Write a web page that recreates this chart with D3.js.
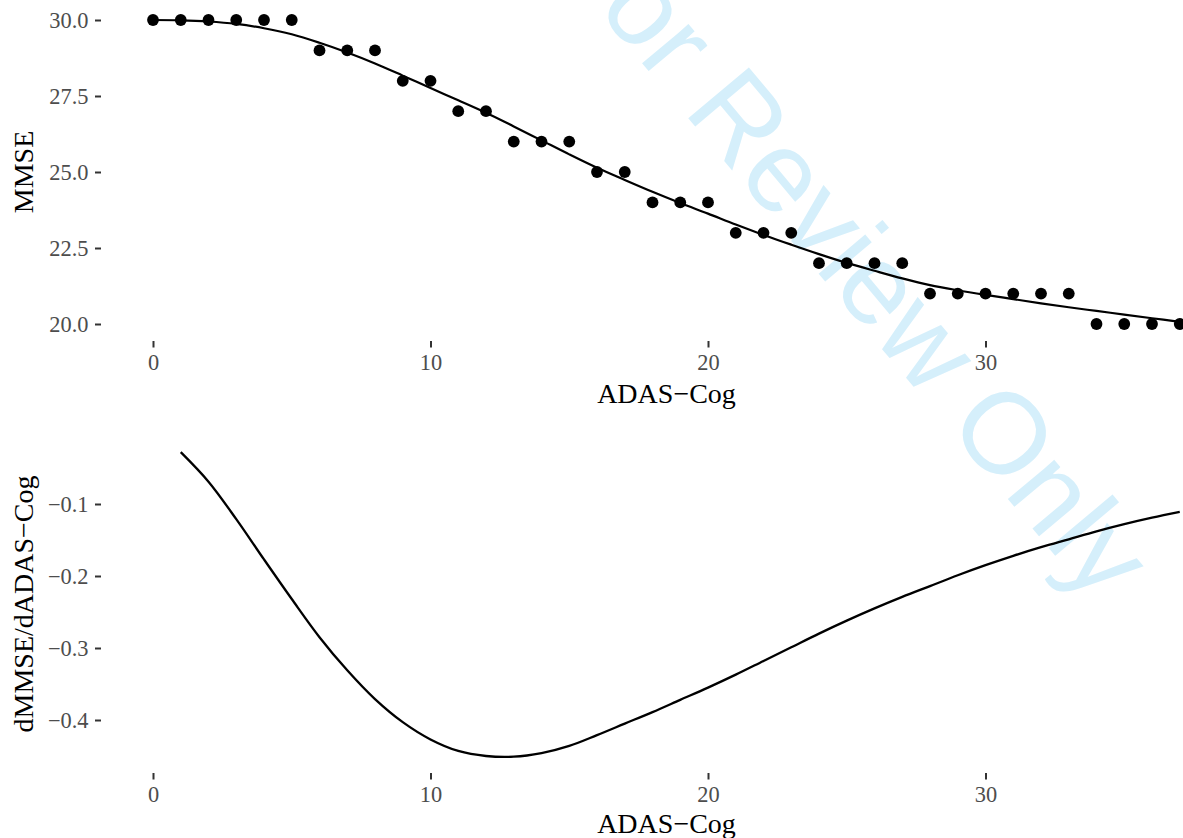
<!DOCTYPE html>
<html>
<head>
<meta charset="utf-8">
<script src="https://cdn.jsdelivr.net/npm/d3@7"></script>
<style>
    html, body { margin: 0; padding: 0; background: #fff; overflow: hidden; }
    svg { display: block; }
    .axis text { font-family: "Liberation Serif", "Times New Roman", serif; font-size: 22.4px; fill: #4d4d4d; }
    .axis line { stroke: #333; stroke-width: 2px; }
    .title { font-family: "Liberation Serif", "Times New Roman", serif; font-size: 28px; fill: #000; }
</style>
</head>
<body>
<svg></svg>
<script>
// observed scores
var adasCog = [0, 1, 2, 3, 4, 5, 6, 7, 8, 9, 10, 11, 12, 13, 14, 15, 16, 17, 18,
    19, 20, 21, 22, 23, 24, 25, 26, 27, 28, 29, 30, 31, 32, 33, 34, 35, 36, 37];
var mmse = [30, 30, 30, 30, 30, 30, 29, 29, 29, 28, 28, 27, 27, 26, 26, 26, 25, 25, 24,
    24, 24, 23, 23, 23, 22, 22, 22, 22, 21, 21, 21, 21, 21, 21, 20, 20, 20, 20];

// fitted curve, same x as adasCog
var mmseFit = [30.00, 29.99, 29.95, 29.87, 29.73, 29.53, 29.25, 28.93, 28.57, 28.17,
    27.76, 27.36, 26.95, 26.50, 26.04, 25.58, 25.14, 24.74, 24.35, 23.98,
    23.63, 23.27, 22.93, 22.61, 22.30, 22.01, 21.75, 21.50, 21.28, 21.11,
    20.96, 20.82, 20.68, 20.55, 20.43, 20.31, 20.19, 20.07];

// derivative curve
var derivX = [1, 2, 3, 4, 5, 6, 7, 8, 9, 10, 11, 12, 13, 14, 15, 16, 17, 18, 19,
    20, 21, 22, 23, 24, 25, 26, 27, 28, 29, 30, 31, 32, 33, 34, 35, 36, 37];
var deriv = [-0.028, -0.069, -0.121, -0.177, -0.232, -0.285, -0.331, -0.371, -0.403,
    -0.427, -0.443, -0.450, -0.451, -0.446, -0.436, -0.421, -0.405, -0.389, -0.372,
    -0.355, -0.337, -0.318, -0.299, -0.280, -0.262, -0.245, -0.229, -0.214, -0.199,
    -0.185, -0.172, -0.160, -0.149, -0.138, -0.128, -0.119, -0.111];

var xTicks = [0, 10, 20, 30];
var mmseTicks = [20, 22.5, 25, 27.5, 30];
var derivTicks = [-0.4, -0.3, -0.2, -0.1];

var W = 1183, H = 838;
var root = d3.select('svg')
    .attr('width', W)
    .attr('height', H);

// watermark behind everything
root.append('text')
    .attr('transform', 'translate(824,280) rotate(50)')
    .attr('text-anchor', 'middle')
    .style('font-family', '"Liberation Sans", Arial, sans-serif')
    .style('font-size', '115px')
    .style('fill', '#d5effb')
    .text('For Review Only');

var x = d3.scaleLinear()
    .domain([0, 30])
    .range([153, 985.5]);

function xAxis(y0) {
    return root.append('g')
        .attr('class', 'axis')
        .attr('transform', 'translate(0,' + y0 + ')')
        .call(d3.axisBottom(x).tickValues(xTicks).tickSize(6.5).tickPadding(6.5)
            .tickFormat(d3.format('d')))
        .call(function (g) { g.select('.domain').remove(); });
}

function yAxis(scale, ticks, fmt) {
    var g = root.append('g')
        .attr('class', 'axis')
        .attr('transform', 'translate(101,0)')
        .call(d3.axisLeft(scale).tickValues(ticks).tickSize(6).tickPadding(6.5)
            .tickFormat(d3.format(fmt)));
    g.select('.domain').remove();
    g.selectAll('text').attr('dy', '0.34em');
    return g;
}

// ---- top panel
var y1 = d3.scaleLinear()
    .domain([20, 30])
    .range([324, 20]);

yAxis(y1, mmseTicks, '.1f');
xAxis(341);

var fitPts = adasCog.map(function (d, i) { return [d, mmseFit[i]]; });
root.append('path')
    .datum(fitPts)
    .attr('fill', 'none')
    .attr('stroke', '#000')
    .attr('stroke-width', 2.2)
    .attr('d', d3.line()
        .curve(d3.curveCatmullRom.alpha(0.5))
        .x(function (d) { return x(d[0]); })
        .y(function (d) { return y1(d[1]); }));

root.append('g')
    .selectAll('circle')
    .data(adasCog)
    .enter()
    .append('circle')
    .attr('cx', function (d) { return x(d); })
    .attr('cy', function (d, i) { return y1(mmse[i]); })
    .attr('r', 5.9)
    .attr('fill', '#000');

root.append('text')
    .attr('class', 'title')
    .attr('x', 666.5)
    .attr('y', 403)
    .attr('text-anchor', 'middle')
    .text('ADAS\u2212Cog');

root.append('text')
    .attr('class', 'title')
    .attr('transform', 'translate(33,172) rotate(-90)')
    .attr('text-anchor', 'middle')
    .text('MMSE');

// ---- bottom panel
var y2 = d3.scaleLinear()
    .domain([-0.4, -0.1])
    .range([720, 504]);

yAxis(y2, derivTicks, '.1f');
xAxis(773);

var derivPts = derivX.map(function (d, i) { return [d, deriv[i]]; });
root.append('path')
    .datum(derivPts)
    .attr('fill', 'none')
    .attr('stroke', '#000')
    .attr('stroke-width', 2.3)
    .attr('d', d3.line()
        .curve(d3.curveCatmullRom.alpha(0.5))
        .x(function (d) { return x(d[0]); })
        .y(function (d) { return y2(d[1]); }));

root.append('text')
    .attr('class', 'title')
    .attr('x', 666.5)
    .attr('y', 833)
    .attr('text-anchor', 'middle')
    .text('ADAS\u2212Cog');

root.append('text')
    .attr('class', 'title')
    .attr('transform', 'translate(33,604) rotate(-90)')
    .attr('text-anchor', 'middle')
    .text('dMMSE/dADAS\u2212Cog');
</script>
</body>
</html>
